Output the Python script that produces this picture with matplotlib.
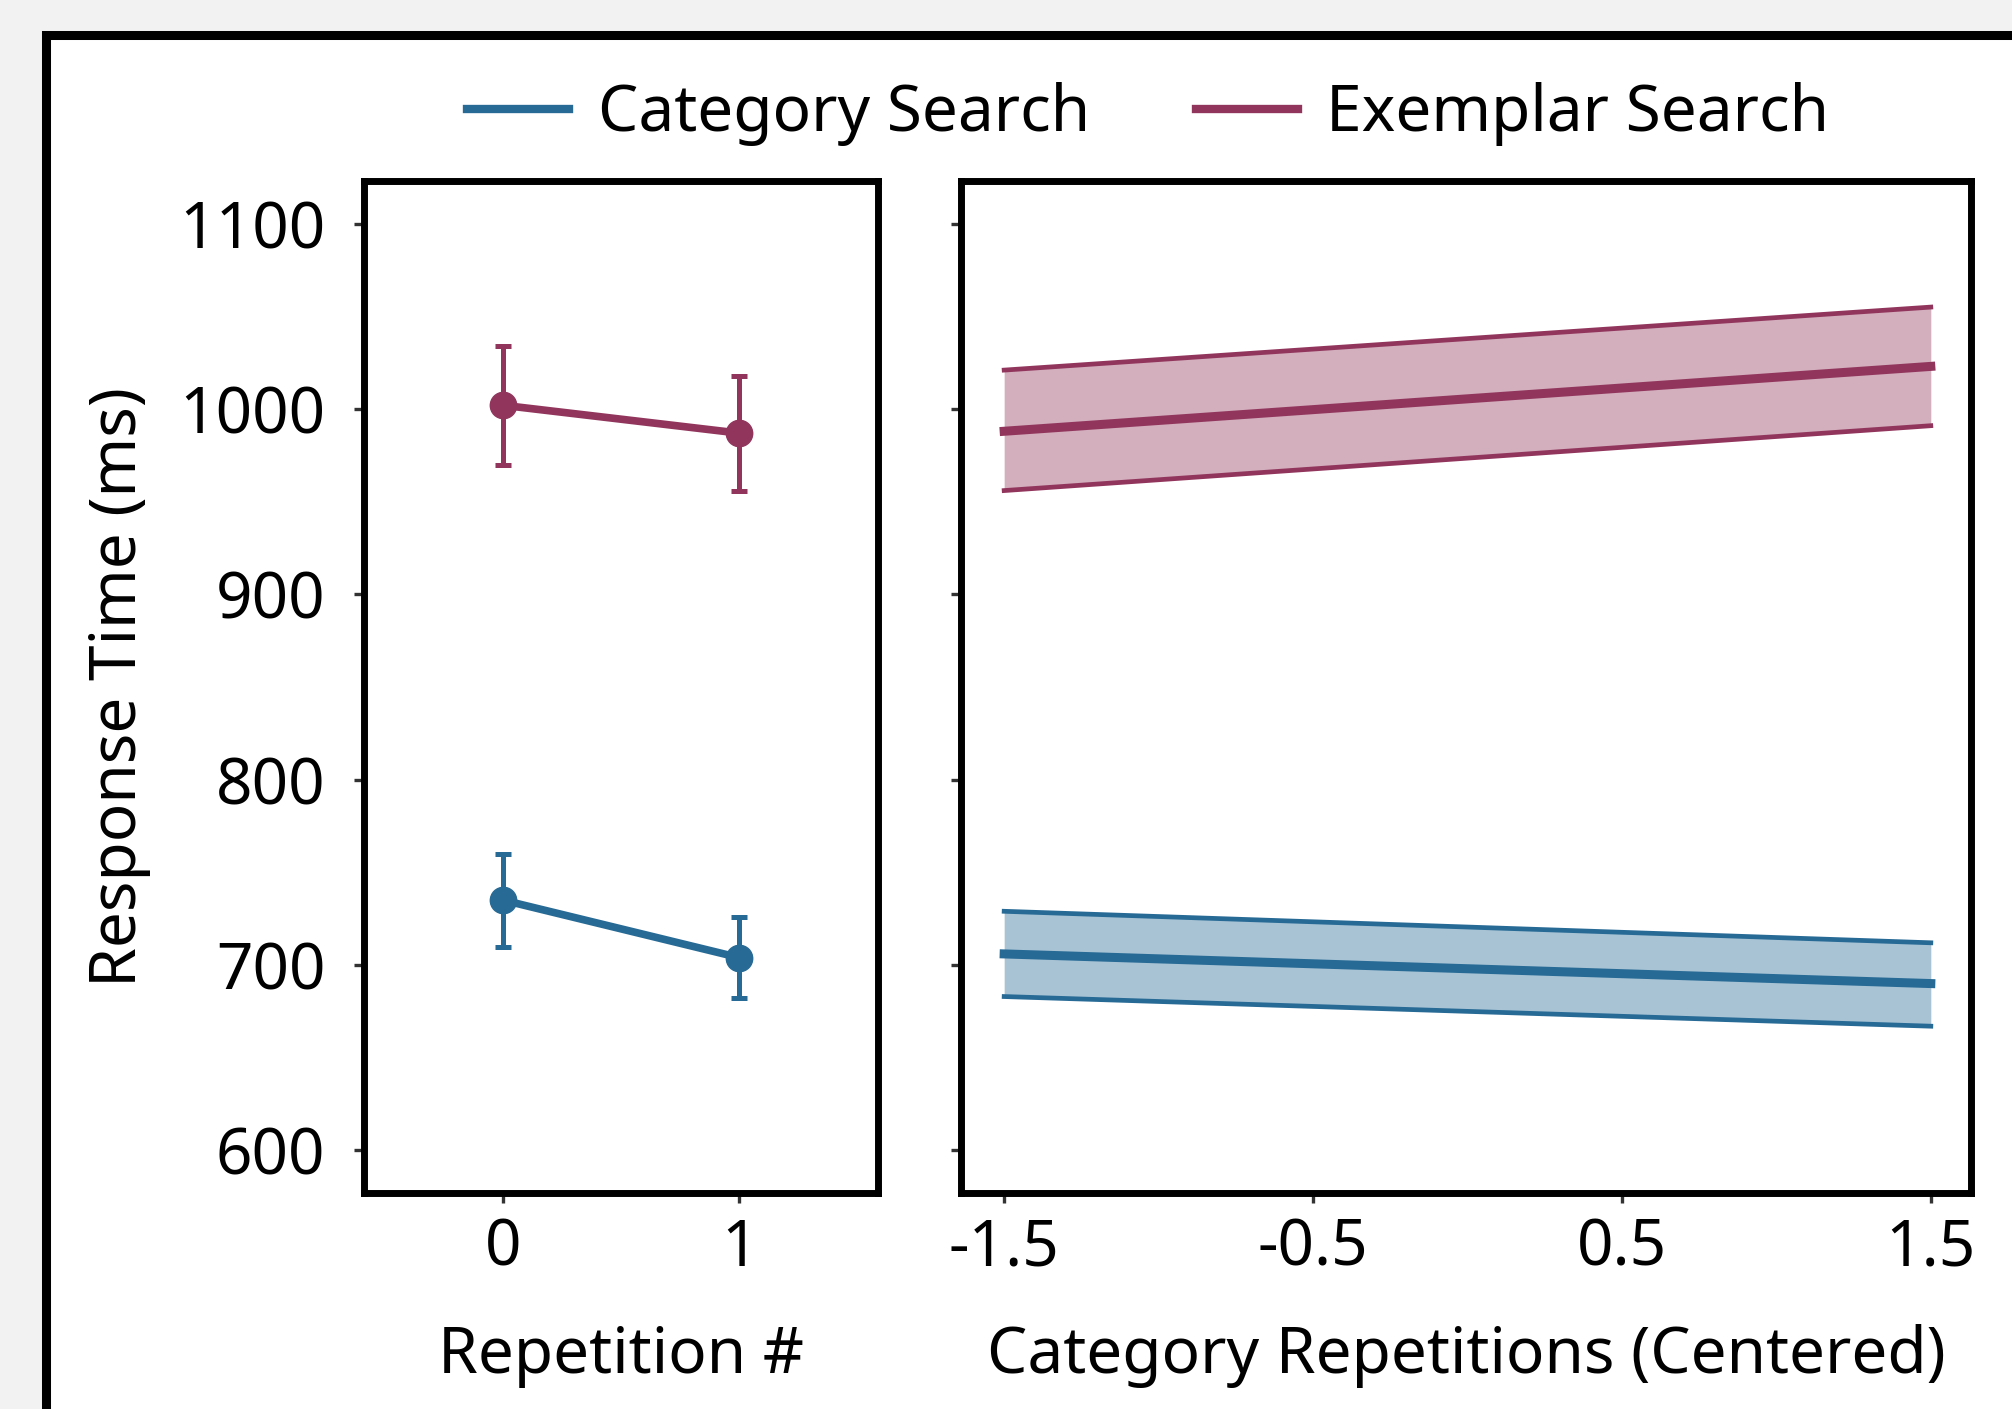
import matplotlib
matplotlib.use("Agg")
import matplotlib.pyplot as plt
from matplotlib.patches import Rectangle
from matplotlib.lines import Line2D

plt.rcParams['font.family'] = ['Noto Sans', 'DejaVu Sans']

# data
conditions = ["Category Search", "Exemplar Search"]
colors = ["#266a95", "#91355c"]

rep_x = [0, 1]
rep_mean = {"Category Search": [735, 704], "Exemplar Search": [1002, 987]}
rep_err = {"Category Search": [25, 22], "Exemplar Search": [32, 31]}

fit_x = [-1.5, 1.5]
fit_mean = {"Category Search": [706, 690], "Exemplar Search": [988, 1023]}
fit_low = {"Category Search": [683, 667], "Exemplar Search": [956, 991]}
fit_high = {"Category Search": [729, 712], "Exemplar Search": [1021, 1055]}

yticks = [600, 700, 800, 900, 1000, 1100]
right_ticks = [-1.5, -0.5, 0.5, 1.5]
right_labels = ["-1.5", "-0.5", "0.5", "1.5"]

fs = 46
fig = plt.figure(figsize=(20.12, 14.09), dpi=100, facecolor="#f2f2f2")

# white framed panel behind the plots
fig.patches.append(Rectangle((0.0229, -0.2), 1.3, 0.9752 + 0.2, transform=fig.transFigure,
                             facecolor="white", edgecolor="black", linewidth=6.5, zorder=-10))

ax1 = fig.add_axes([0.1810, 0.1533, 0.2555, 0.7182])
ax2 = fig.add_axes([0.4776, 0.1533, 0.5020, 0.7182])

for cond, col in zip(conditions, colors):
    ax1.errorbar(rep_x, rep_mean[cond], yerr=rep_err[cond], color=col, lw=5.5,
                 marker='o', ms=19, elinewidth=3.6, capsize=5.5, capthick=3.6)
    ax2.fill_between(fit_x, fit_low[cond], fit_high[cond], color=col, alpha=0.4, lw=0)
    ax2.plot(fit_x, fit_low[cond], color=col, lw=3.4)
    ax2.plot(fit_x, fit_high[cond], color=col, lw=3.4)
    ax2.plot(fit_x, fit_mean[cond], color=col, lw=6.5)

for ax in (ax1, ax2):
    ax.set_ylim(577, 1123)
    ax.set_yticks(yticks)
    for s in ax.spines.values():
        s.set_linewidth(5)
    ax.tick_params(length=7, width=2.4, color="#333333", labelsize=fs, pad=10)
    ax.tick_params(axis="y", pad=21)

ax1.set_xlim(-0.59, 1.59)
ax1.set_xticks(rep_x)
ax1.set_ylabel("Response Time (ms)", fontsize=fs, labelpad=20)
ax1.set_xlabel("Repetition #", fontsize=fs, labelpad=31)

ax2.set_xlim(-1.64, 1.63)
ax2.set_xticks(right_ticks)
ax2.set_xticklabels(right_labels)
ax2.set_yticklabels([])
ax2.set_xlabel("Category Repetitions (Centered)", fontsize=fs, labelpad=31)

handles = [Line2D([], [], color=c, lw=6) for c in colors]
fig.legend(handles, conditions, loc="center", bbox_to_anchor=(0.5707, 0.919), ncol=2,
           frameon=False, fontsize=fs, handlelength=1.6, columnspacing=1.65, handletextpad=0.45)

fig.savefig("out.png", dpi=100, facecolor=fig.get_facecolor())
